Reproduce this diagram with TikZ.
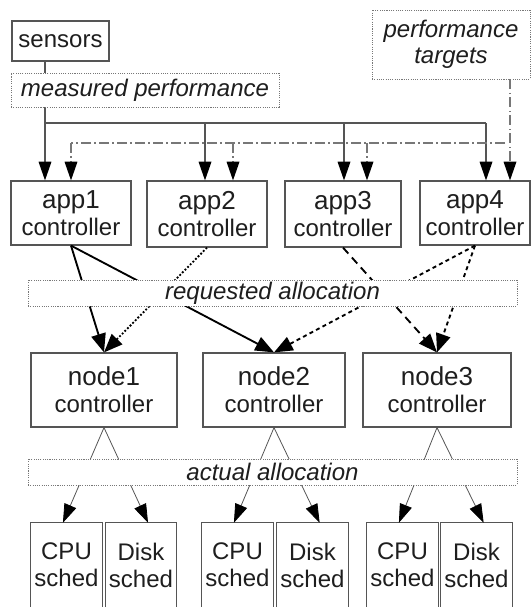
\documentclass[tikz,border=0pt]{standalone}
\usepackage{fontspec}
\setmainfont{Liberation Sans}
\usetikzlibrary{arrows.meta,calc}
\definecolor{boxgray}{HTML}{555555}
\definecolor{dotgray}{HTML}{777777}
\definecolor{linegray}{HTML}{555555}
\definecolor{txt}{HTML}{1E1E1E}
\begin{document}
\begin{tikzpicture}[x=0.75pt,y=-0.75pt,
  box/.style={draw=boxgray,line width=0.9pt,fill=white,inner sep=0pt,align=center,text=txt,
    font=\fontsize{18}{20.25}\selectfont},
  schedbox/.style={inner sep=0pt,align=center,text=txt,minimum width=53.25pt,minimum height=63pt,
    font=\fontsize{18}{20.25}\selectfont},
  lbl/.style={draw=dotgray,line width=0.7pt,dash pattern=on 0.8pt off 0.9pt,fill=white,inner sep=0pt,
    align=center,text=txt,font=\fontsize{18}{19.5}\selectfont\itshape},
  tip/.style={-{Triangle[length=14pt,width=9.5pt,color=black]}},
  bigtip/.style={-{Triangle[length=14pt,width=11pt,color=black]}},
  feed/.style={draw=linegray,line width=0.9pt},
  dd/.style={draw=dotgray,line width=0.9pt,dash pattern=on 7.5pt off 2.5pt on 1pt off 2.5pt},
  req/.style={draw=black,line width=1.4pt},
  thin/.style={draw=linegray,line width=0.6pt}
]
\useasboundingbox (0,0) rectangle (531,607);

% ---------- boxes ----------
\node[box,minimum width=72.75pt,minimum height=30pt] (sensors) at (60.5,41) {sensors};
\node[box,minimum width=90pt,minimum height=48pt] (app1) at (71,213)
  {{\fontsize{19.5}{20.25}\selectfont app1}\\controller};
\node[box,minimum width=90pt,minimum height=49.5pt] (app2) at (207,214)
  {{\fontsize{19.5}{20.25}\selectfont app2}\\controller};
\node[box,minimum width=87pt,minimum height=49.5pt] (app3) at (343,214)
  {{\fontsize{19.5}{20.25}\selectfont app3}\\controller};
\node[box,minimum width=82.5pt,minimum height=48pt] (app4) at (475,213)
  {{\fontsize{19.5}{20.25}\selectfont app4}\\controller};
\node[box,minimum width=109.5pt,minimum height=55.5pt] (node1) at (104,390)
  {{\fontsize{19.5}{20.25}\selectfont node1}\\controller};
\node[box,minimum width=106.5pt,minimum height=55.5pt] (node2) at (274,390)
  {{\fontsize{19.5}{20.25}\selectfont node2}\\controller};
\node[box,minimum width=111pt,minimum height=55.5pt] (node3) at (437,390)
  {{\fontsize{19.5}{20.25}\selectfont node3}\\controller};

\node[schedbox] (cpu1) at (66.5,565) {CPU\\sched};
\node[schedbox,minimum width=52.5pt] (disk1) at (141,565) {Disk\\sched};
\node[schedbox] (cpu2) at (237.5,565) {CPU\\sched};
\node[schedbox] (disk2) at (312.5,565) {Disk\\sched};
\node[schedbox] (cpu3) at (402.5,565) {CPU\\sched};
\node[schedbox] (disk3) at (476.5,565) {Disk\\sched};
\foreach \s in {cpu1,disk1,cpu2,disk2,cpu3,disk3}{
  \draw[draw=boxgray,line width=0.9pt] (\s.south west) |- (\s.north east) -- (\s.south east);
}

% ---------- helper coordinates ----------
\coordinate (x1) at (45,0);
\coordinate (x2) at (205,0);
\coordinate (x3) at (344,0);
\coordinate (busL) at (45,123);
\coordinate (busR) at (486,123);
\coordinate (t2) at (233,0);
\coordinate (t3) at (367,0);
\coordinate (t4) at (510,0);
\coordinate (tbL) at (71,143);
\coordinate (tbR) at (505,143);

% ---------- measured performance feed ----------
\draw[feed,tip] (sensors.south -| x1) -- (app1.north -| x1);
\draw[feed] (busL) -- (busR);
\draw[feed,tip] (busL -| x2) -- (app2.north -| x2);
\draw[feed,tip] (busL -| x3) -- (app3.north -| x3);
\draw[feed,tip] (busR) -- (app4.north -| busR);

% ---------- performance targets feed ----------
\node[lbl,minimum width=118.5pt,minimum height=51.75pt,font=\fontsize{18}{19.5}\selectfont\itshape] (targets) at (451,44.5)
  {performance\\targets};
\draw[dd,tip] (targets.south -| t4) -- (app4.north -| t4);
\draw[dd] (tbR) -- (tbL);
\draw[dd,tip] (tbL) -- (app1.north -| tbL);
\draw[dd,tip] (tbL -| t2) -- (app2.north -| t2);
\draw[dd,tip] (tbL -| t3) -- (app3.north -| t3);

% ---------- requested allocation ----------
\draw[req,bigtip] (app1.south) -- (node1.north);
\draw[req,bigtip] (app1.south) -- (node2.north);
\draw[req,bigtip,dash pattern=on 1.4pt off 1.4pt] (app2.south) -- (node1.north);
\draw[req,bigtip,dash pattern=on 6pt off 4pt] (app3.south) -- (node3.north);
\draw[req,bigtip,dash pattern=on 3pt off 2.5pt] (app4.south) -- (node2.north);
\draw[req,bigtip,dash pattern=on 3pt off 2.5pt] (app4.south) -- (node3.north);

% ---------- actual allocation ----------
\foreach \n/\c/\d in {node1/cpu1/disk1,node2/cpu2/disk2,node3/cpu3/disk3}{
  \draw[thin,tip] (\n.south) -- ($(\c.north west)!0.45!(\c.north east)$);
  \draw[thin,tip] (\n.south) -- ($(\d.north west)!0.6!(\d.north east)$);
}

% ---------- dotted label bands (drawn over the connectors) ----------
\node[lbl,minimum width=201pt,minimum height=25.5pt] (measured) at (145,90) {measured performance};
\node[lbl,minimum width=366.75pt,minimum height=19.5pt] (requested) at (272.5,293) {requested allocation};
\node[lbl,minimum width=366.75pt,minimum height=19.5pt] (actual) at (272.5,472) {actual allocation};
\end{tikzpicture}
\end{document}
